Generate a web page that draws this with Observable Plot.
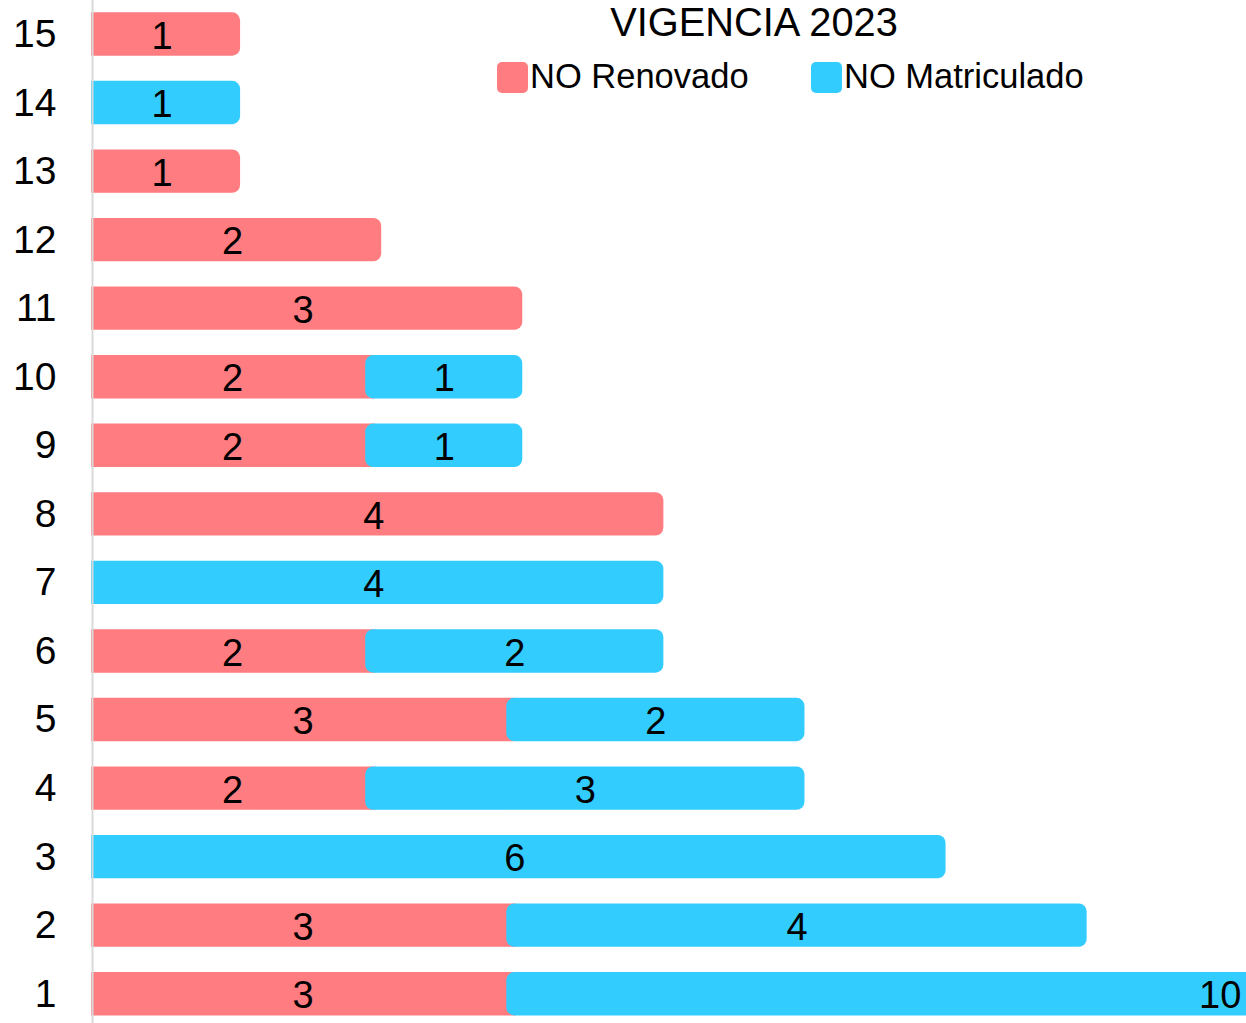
<!DOCTYPE html>
<html>
<head>
<meta charset="utf-8">
<script src="https://cdn.jsdelivr.net/npm/d3@7"></script>
<script src="https://cdn.jsdelivr.net/npm/@observablehq/plot@0.6"></script>
<style>
  html, body { margin: 0; padding: 0; background: white; overflow: hidden; }
  #wrap { position: relative; width: 1246px; height: 1023px; }
  #overlay { position: absolute; left: 0; top: 0; pointer-events: none; }
</style>
</head>
<body>
<div id="wrap"></div>
<script>
const title = "VIGENCIA 2023";
const categories = [15, 14, 13, 12, 11, 10, 9, 8, 7, 6, 5, 4, 3, 2, 1];
const series = ["NO Renovado", "NO Matriculado"];
const colors = ["#FF7C80", "#33CCFF"];
const noRenovado    = [1, 0, 1, 2, 3, 2, 2, 4, 0, 2, 3, 2, 0, 3, 3];
const noMatriculado = [0, 1, 0, 0, 0, 1, 1, 0, 4, 2, 2, 3, 6, 4, 10];

const rows = [];
[noRenovado, noMatriculado].forEach((vals, si) => {
  categories.forEach((c, i) => {
    if (vals[i] > 0) rows.push({cat: c, serie: series[si], value: vals[i]});
  });
});

const font = "'Liberation Sans', Arial, sans-serif";

const chart = Plot.plot({
  width: 1246,
  height: 1023,
  marginLeft: 91,
  marginRight: 0,
  marginTop: 0,
  marginBottom: 0,
  style: {fontFamily: font, fontSize: "39px", color: "black", background: "white"},
  x: {domain: [0, 8.186], axis: null},
  y: {domain: categories, range: [-0.3, 1028], padding: 0, round: false,
      tickSize: 0, tickPadding: 35, label: null},
  color: {domain: series, range: colors},
  marks: [
    Plot.barX(rows, {
      x: "value", y: "cat", fill: "serie",
      insetLeft: -8, insetRight: -8, insetTop: 12.6, insetBottom: 12.6,
      rx: 8, clip: true
    }),
    Plot.ruleX([0], {stroke: "#D9D9D9", strokeWidth: 2, dx: 1}),
    Plot.textX(rows, Plot.stackX({
      x: "value", y: "cat", text: d => String(d.value),
      fill: "black", fontSize: 38, dy: 2
    }))
  ]
});

const wrap = document.getElementById("wrap");
wrap.appendChild(chart);

// Title and legend overlaid at the top right, as in the reference
const ov = d3.select(wrap).append("svg")
  .attr("id", "overlay")
  .attr("width", 1246).attr("height", 120)
  .style("font-family", font);

ov.append("text")
  .attr("x", 754).attr("y", 36)
  .attr("text-anchor", "middle")
  .attr("font-size", 39.8)
  .attr("fill", "black")
  .text(title);

const legendX = [497, 811];
series.forEach((s, i) => {
  ov.append("rect")
    .attr("x", legendX[i]).attr("y", 62)
    .attr("width", 31).attr("height", 31)
    .attr("rx", 5)
    .attr("fill", colors[i]);
  ov.append("text")
    .attr("x", legendX[i] + 33).attr("y", 88)
    .attr("font-size", 34.5)
    .attr("fill", "black")
    .text(s);
});
</script>
</body>
</html>
